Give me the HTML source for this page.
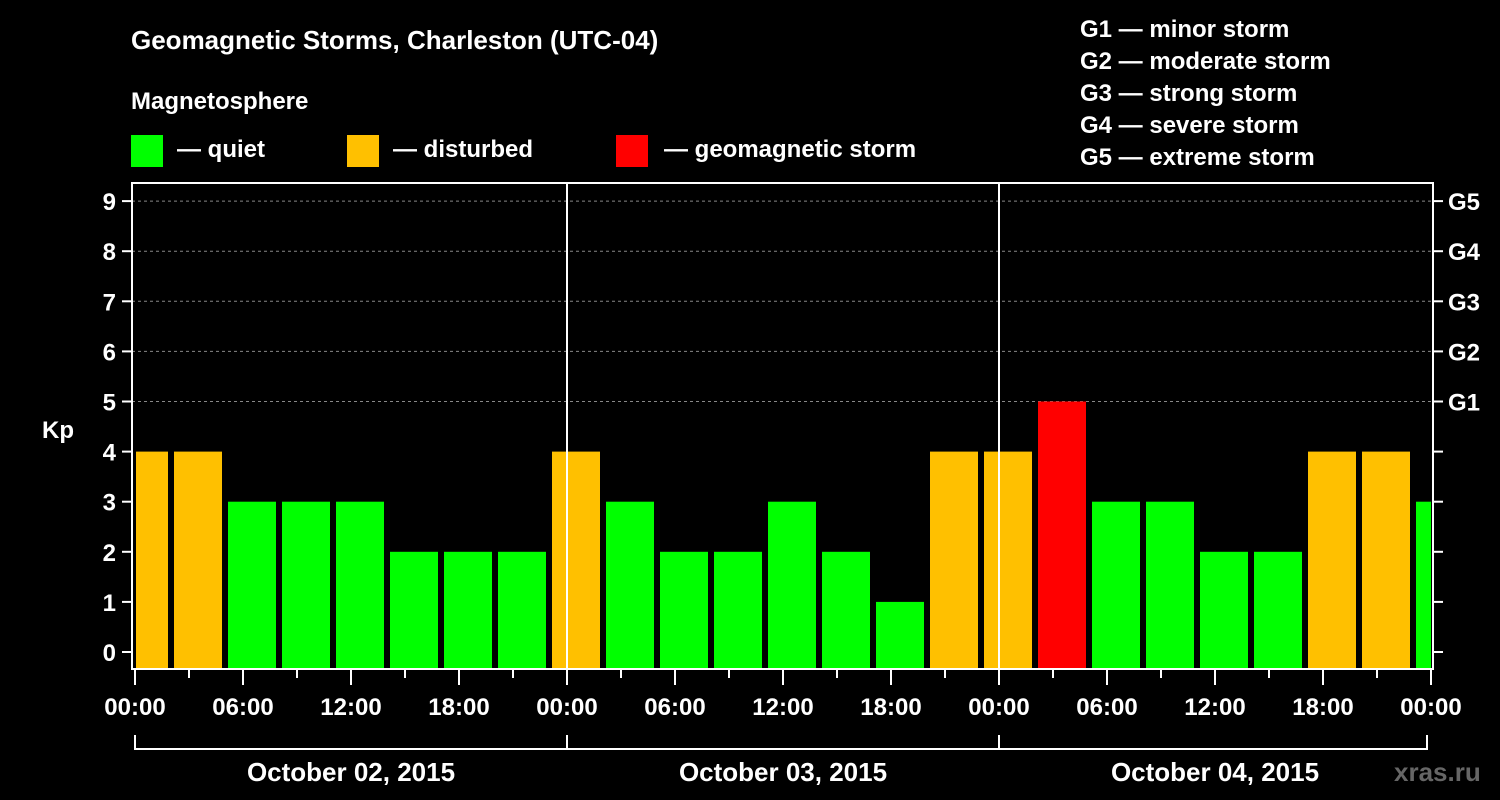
<!DOCTYPE html>
<html><head><meta charset="utf-8"><style>
html,body{margin:0;padding:0;background:#000;}
svg{display:block;font-family:"Liberation Sans",Arial,sans-serif;font-weight:bold;}
</style></head><body>
<svg id="chart" width="1500" height="800" viewBox="0 0 1500 800">
<rect width="1500" height="800" fill="#000"/>
<text x="131" y="49" fill="#fff" font-size="26">Geomagnetic Storms, Charleston (UTC-04)</text>
<text x="131" y="109" fill="#fff" font-size="24">Magnetosphere</text>
<g><rect x="131" y="135" width="32" height="32" fill="#00ff00"/><text x="177" y="157" fill="#fff" font-size="24">— quiet</text></g>
<g><rect x="347" y="135" width="32" height="32" fill="#ffc000"/><text x="393" y="157" fill="#fff" font-size="24">— disturbed</text></g>
<g><rect x="616" y="135" width="32" height="32" fill="#ff0000"/><text x="664" y="157" fill="#fff" font-size="24">— geomagnetic storm</text></g>
<g font-size="24" fill="#fff">
<text x="1080" y="37">G1 — minor storm</text>
<text x="1080" y="69">G2 — moderate storm</text>
<text x="1080" y="101">G3 — strong storm</text>
<text x="1080" y="133">G4 — severe storm</text>
<text x="1080" y="165">G5 — extreme storm</text>
</g>
<g id="plot"></g>
<text x="497" y="783" fill="#fff" font-size="26" text-anchor="middle" fill-opacity="0"></text>
<text x="1394" y="781" fill="#666" font-size="26">xras.ru</text>
</svg>
<script>
const kpValues=[4,4,3,3,3,2,2,2,4,3,2,2,3,2,1,4,4,5,3,3,2,2,4,4,3];
const kpTicks=[0,1,2,3,4,5,6,7,8,9];
const gLabels=["","","","","","G1","G2","G3","G4","G5"];
const hourLabels=["00:00","06:00","12:00","18:00"];
const dayLabels=["October 02, 2015","October 03, 2015","October 04, 2015"];
const firstBarHour=-1; // 00 UTC = 20:00 local, bars at 23:00 local boundaries

const NS="http://www.w3.org/2000/svg";
const g=document.getElementById('plot');
const X0=135,PX_H=18,Y0=652,PX_K=50.1,TOP=183,BOT=668,LEFT=132,RIGHT=1433;
const xs=h=>X0+h*PX_H, ys=k=>Y0-k*PX_K;
function mk(t,a,p){const e=document.createElementNS(NS,t);for(const k in a)e.setAttribute(k,a[k]);(p||g).appendChild(e);return e;}
// grid
kpTicks.forEach(k=>{if(k>=5){const l=mk('line',{x1:LEFT,x2:RIGHT,y1:ys(k),y2:ys(k),stroke:'#888','stroke-dasharray':'3,3','stroke-width':1});

}});
// bars
const nDays=dayLabels.length, endH=nDays*24;
kpValues.forEach((v,i)=>{
  let h0=firstBarHour+3*i, h1=h0+3;
  let x0=Math.max(xs(h0)+3,X0+1), x1=Math.min(xs(h1)-3,xs(endH));
  if(x1<=x0)return;
  const col=v>=5?'#ff0000':(v>=4?'#ffc000':'#00ff00');
  const r=mk('rect',{x:x0,y:ys(v),width:x1-x0,height:BOT-ys(v),fill:col});
  
  
});
// day separators
for(let d=1;d<nDays;d++){const l=mk('line',{x1:xs(24*d),x2:xs(24*d),y1:TOP,y2:BOT,stroke:'#fff','stroke-width':2});

}
// frame
const f=mk('rect',{x:LEFT,y:TOP,width:RIGHT-LEFT,height:BOT-TOP+1,fill:'none',stroke:'#fff','stroke-width':2});


// y ticks
kpTicks.forEach(k=>{
  mk('line',{x1:LEFT-10,x2:LEFT,y1:ys(k),y2:ys(k),stroke:'#fff','stroke-width':2});
  mk('line',{x1:RIGHT,x2:RIGHT+10,y1:ys(k),y2:ys(k),stroke:'#fff','stroke-width':2});
  const t=mk('text',{x:116,y:ys(k)+9,fill:'#fff','font-size':24,'text-anchor':'end'});t.textContent=k;
  
  
  if(gLabels[k]){const r=mk('text',{x:1448,y:ys(k)+9,fill:'#fff','font-size':24});r.textContent=gLabels[k];
  
  }
});
const kp=mk('text',{x:42,y:438,fill:'#fff','font-size':24});kp.textContent='Kp';


// x ticks
for(let h=0;h<=endH;h+=3){
  const major=h%6===0;
  mk('line',{x1:xs(h),x2:xs(h),y1:BOT+1,y2:BOT+(major?17:10),stroke:'#fff','stroke-width':2});
  if(major){const t=mk('text',{x:xs(h),y:715,fill:'#fff','font-size':24,'text-anchor':'middle'});
  t.textContent=hourLabels[(h%24)/6];
  
  }
}
// day brackets
dayLabels.forEach((d,i)=>{
  const a=xs(24*i),b=xs(24*(i+1))-(i==nDays-1?4:0);
  mk('path',{d:`M${a} 735V749H${b}V735`,fill:'none',stroke:'#fff','stroke-width':2});
  const t=mk('text',{x:(xs(24*i)+xs(24*(i+1)))/2,y:781,fill:'#fff','font-size':26,'text-anchor':'middle'});t.textContent=d;
  
  
});
</script>
</body></html>
